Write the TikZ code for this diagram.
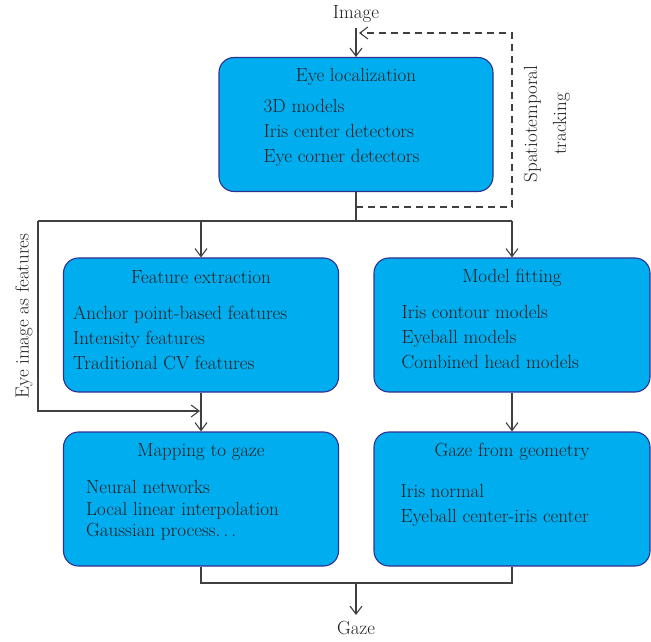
\documentclass[tikz,border=0pt]{standalone}
\usepackage{tikz}
\usetikzlibrary{arrows.meta,calc,positioning}
\definecolor{boxfill}{HTML}{00AEEF}
\definecolor{boxline}{HTML}{2E3192}
\definecolor{inkgrey}{HTML}{231F20}
\definecolor{wiregrey}{HTML}{404040}

\begin{document}
\begin{tikzpicture}[x=1pt,y=1pt,font=\fontsize{19}{25}\selectfont,text=inkgrey]
\tikzset{stagebox/.style={draw=boxline,fill=boxfill,line width=1.1pt,rounded corners=15pt,
  inner sep=0,minimum height=134},
boxtitle/.style={inner sep=0},
boxitems/.style={inner sep=0,align=left,anchor=west},
wire/.style={draw=wiregrey,line width=1.1pt},
arr/.style={wire,-{Straight Barb[length=8pt,width=12pt]}},
flowlabel/.style={inner sep=5pt}}
\useasboundingbox (0,0) rectangle (651,641);

\node (eyeloc) [stagebox,minimum width=274] at (356, 516.5) {};
\node (featext) [stagebox,minimum width=275] at (201, 316) {};
\node (modfit) [stagebox,minimum width=276] at (512, 316) {};
\node (mapgaze) [stagebox,minimum width=275] at (201, 142) {};
\node (gazegeo) [stagebox,minimum width=276] at (512, 142) {};

\foreach \u/\lab in {eyeloc/Eye localization, featext/Feature extraction, modfit/Model fitting,
  mapgaze/Mapping to gaze, gazegeo/Gaze from geometry}
  \node (\u-title) [boxtitle] at ($(\u.north)+(0,-20)$) {\lab};

\node (eyeloc-items) [boxitems] at ($(eyeloc.north west)+(45,-76)$)
  {3D models\\Iris center detectors\\Eye corner detectors};
\node (featext-items) [boxitems] at ($(featext.north west)+(10,-80)$)
  {Anchor point-based features\\Intensity features\\Traditional CV features};
\node (modfit-items) [boxitems] at ($(modfit.north west)+(28,-80)$)
  {Iris contour models\\Eyeball models\\Combined head models};
\node (mapgaze-items) [boxitems,font=\fontsize{19}{21.5}\selectfont] at ($(mapgaze.north west)+(23,-79)$)
  {Neural networks\\Local linear interpolation\\Gaussian process.\,.\,.};
\node (gazegeo-items) [boxitems] at ($(gazegeo.north west)+(27,-73.5)$)
  {Iris normal\\Eyeball center-iris center};

\node (image) [flowlabel] at (356, 627) {Image};
\node (gaze) [flowlabel,inner sep=6.5pt,anchor=north] at (356, 26) {Gaze};
\node (tracklab) [rotate=90,align=center] at (547, 517) {Spatiotemporal\\[4pt]tracking};
\node (eyefeatlab) [rotate=90] at (24, 325) {Eye image as features};

\coordinate (loopin) at (356, 434);
\coordinate (loopturn) at (512, 608);
\coordinate (split) at (356, 420);
\coordinate (splitL) at (38, 420);
\coordinate (splitR) at (512, 420);
\coordinate (bypass) at (38, 230);
\coordinate (merge) at (356, 58);

%% Edges
\draw[arr] (image.south) -- (eyeloc.north);
\draw[wire,dash pattern=on 7pt off 5pt,-{Straight Barb[length=8pt,width=12pt]}]
  (loopin) -| (loopturn) -- ($(image.south |- loopturn)+(3,0)$);
\draw[wire] (eyeloc.south) -- (split);
\draw[wire] (splitL) -- (splitR);
\draw[arr] (featext.north |- split) -- (featext.north);
\draw[arr] (splitR) -- (modfit.north);
\draw[arr] (splitL) -- (bypass) -- ($(mapgaze.north |- bypass)+(-1,0)$);
\draw[arr] (featext.south) -- (mapgaze.north);
\draw[arr] (modfit.south) -- (gazegeo.north);
\draw[wire] (mapgaze.south) |- (merge) -| (gazegeo.south);
\draw[arr] (merge) -- (gaze.north);

\end{tikzpicture}
\end{document}
